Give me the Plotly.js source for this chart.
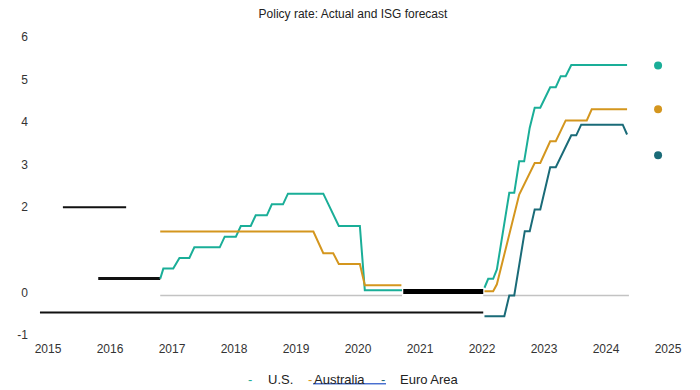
<!DOCTYPE html>
<html>
<head>
<meta charset="utf-8">
<script src="https://cdn.plot.ly/plotly-3.0.1.min.js"></script>
<style>html,body{margin:0;padding:0;background:#fff;}#chart{width:700px;height:390px;}</style>
</head>
<body>
<div id="chart"></div>
<script>
// ---- data ----
const xTicks = [2015, 2016, 2017, 2018, 2019, 2020, 2021, 2022, 2023, 2024, 2025];
const yTicks = [6, 5, 4, 3, 2, 0, -1];

const usX = [2016.81, 2016.86, 2017.02, 2017.12, 2017.28, 2017.36, 2017.77, 2017.85, 2018.03, 2018.11, 2018.27, 2018.35, 2018.53, 2018.61, 2018.79, 2018.87, 2019.44, 2019.69, 2020.03, 2020.11, 2020.71, null,
             2022.04, 2022.10, 2022.18, 2022.24, 2022.44, 2022.52, 2022.60, 2022.68, 2022.77, 2022.85, 2022.94, 2023.10, 2023.19, 2023.27, 2023.35, 2023.44, 2024.34];
const usY = [0.32, 0.56, 0.56, 0.81, 0.81, 1.06, 1.06, 1.31, 1.31, 1.56, 1.56, 1.81, 1.81, 2.07, 2.07, 2.32, 2.32, 1.56, 1.56, 0.05, 0.05, null,
             0.11, 0.32, 0.32, 0.54, 2.34, 2.34, 3.08, 3.08, 3.87, 4.34, 4.34, 4.82, 4.82, 5.08, 5.08, 5.34, 5.34];

const auX = [2016.81, 2019.28, 2019.44, 2019.60, 2019.69, 2020.03, 2020.11, 2020.70, null,
             2022.04, 2022.18, 2022.24, 2022.60, 2022.85, 2022.94, 2023.10, 2023.19, 2023.35, 2023.69, 2023.77, 2024.34];
const auY = [1.43, 1.43, 0.92, 0.92, 0.67, 0.67, 0.17, 0.17, null,
             0.03, 0.03, 0.19, 2.30, 3.04, 3.04, 3.55, 3.55, 4.04, 4.04, 4.30, 4.30];

const euX = [2022.04, 2022.36, 2022.44, 2022.52, 2022.69, 2022.77, 2022.85, 2022.94, 2023.10, 2023.19, 2023.44, 2023.52, 2023.60, 2024.27, 2024.34];
const euY = [-0.56, -0.56, -0.07, -0.07, 1.44, 1.44, 1.95, 1.95, 2.94, 2.94, 3.69, 3.69, 3.94, 3.94, 3.71];

const blackAX = [2015.24, 2016.26], blackAY = [2.0, 2.0];
const blackBX = [2015.81, 2016.81], blackBY = [0.33, 0.33];
const blackCX = [2014.87, 2022.02], blackCY = [-0.47, -0.47];
const blackDX = [2020.73, 2022.02], blackDY = [0.02, 0.02];

const grayX = [2016.81, 2020.71, null, 2022.02, 2024.37];
const grayY = [-0.07, -0.07, null, -0.07, -0.07];

const forecastX = [2024.84, 2024.84, 2024.84];
const forecastY = [5.33, 4.30, 3.22];

const seriesNames = ['U.S.', 'Australia', 'Euro Area'];

// ---- styling ----
const cUS = '#1aae98', cAU = '#d4961e', cEU = '#1a6b78';
const FONT = 'Liberation Sans, Arial, sans-serif';

function seg(x, y, color, width) {
  return {x: x, y: y, type: 'scatter', mode: 'lines', line: {color: color, width: width}, hoverinfo: 'skip', showlegend: false};
}

const traces = [
  seg(grayX, grayY, '#c3c3c3', 1.5),
  seg(blackCX, blackCY, '#111', 2),
  seg(blackAX, blackAY, '#111', 2),
  seg(blackBX, blackBY, '#111', 3),
  seg(blackDX, blackDY, '#000', 5),
  Object.assign(seg(usX, usY, cUS, 2), {name: seriesNames[0], connectgaps: false}),
  Object.assign(seg(auX, auY, cAU, 2), {name: seriesNames[1], connectgaps: false}),
  Object.assign(seg(euX, euY, cEU, 2), {name: seriesNames[2]}),
  {x: forecastX, y: forecastY, type: 'scatter', mode: 'markers',
   marker: {size: 8, color: [cUS, cAU, cEU]}, showlegend: false, hoverinfo: 'skip'}
];

// pixel helpers for legend placement (plot area: x 35..690, y 33..337)
const px = p => (p - 35) / 655;
const py = p => (337 - p) / 304;

const legendY = py(379);
const annotations = [
  {text: '-', x: px(250), xanchor: 'center', font: {color: cUS, size: 13, family: FONT}},
  {text: seriesNames[0], x: px(266), xanchor: 'left', font: {color: '#222', size: 13, family: FONT}},
  {text: '-', x: px(310), xanchor: 'center', font: {color: cAU, size: 13, family: FONT}},
  {text: seriesNames[1], x: px(312), xanchor: 'left', font: {color: '#222', size: 13, family: FONT}},
  {text: '-', x: px(383), xanchor: 'center', font: {color: cEU, size: 13, family: FONT}},
  {text: seriesNames[2], x: px(398), xanchor: 'left', font: {color: '#222', size: 13, family: FONT}}
].map(a => Object.assign({xref: 'paper', yref: 'paper', y: legendY, yanchor: 'middle', showarrow: false}, a));

const layout = {
  width: 700, height: 390,
  margin: {l: 35, r: 10, t: 33, b: 53},
  paper_bgcolor: '#fff', plot_bgcolor: '#fff',
  font: {family: FONT, size: 12, color: '#333'},
  showlegend: false,
  title: {text: 'Policy rate: Actual and ISG forecast', x: 353 / 700, xanchor: 'center',
          y: 1 - 14 / 390, yanchor: 'middle', font: {size: 12, color: '#222', family: FONT}},
  xaxis: {range: [2014.79, 2025.355], tickvals: xTicks, ticktext: xTicks.map(String),
          showgrid: false, zeroline: false, showline: false, ticks: '',
          tickfont: {size: 12, color: '#333'}, ticklabelstandoff: 3},
  yaxis: {range: [-1.047, 6.094], tickvals: yTicks, ticktext: yTicks.map(String),
          showgrid: false, zeroline: false, showline: false, ticks: '',
          tickfont: {size: 12, color: '#333'}, ticklabelstandoff: 6},
  annotations: annotations,
  shapes: [
    {type: 'line', xref: 'paper', yref: 'paper', x0: px(313), x1: px(386), y0: py(384.5), y1: py(384.5),
     line: {color: '#a9bde8', width: 1}},
    {type: 'line', xref: 'paper', yref: 'paper', x0: px(313), x1: px(386), y0: py(383.5), y1: py(383.5),
     line: {color: '#4a6fd0', width: 1.2}}
  ]
};

Plotly.newPlot('chart', traces, layout, {displayModeBar: false, staticPlot: true});
</script>
</body>
</html>
